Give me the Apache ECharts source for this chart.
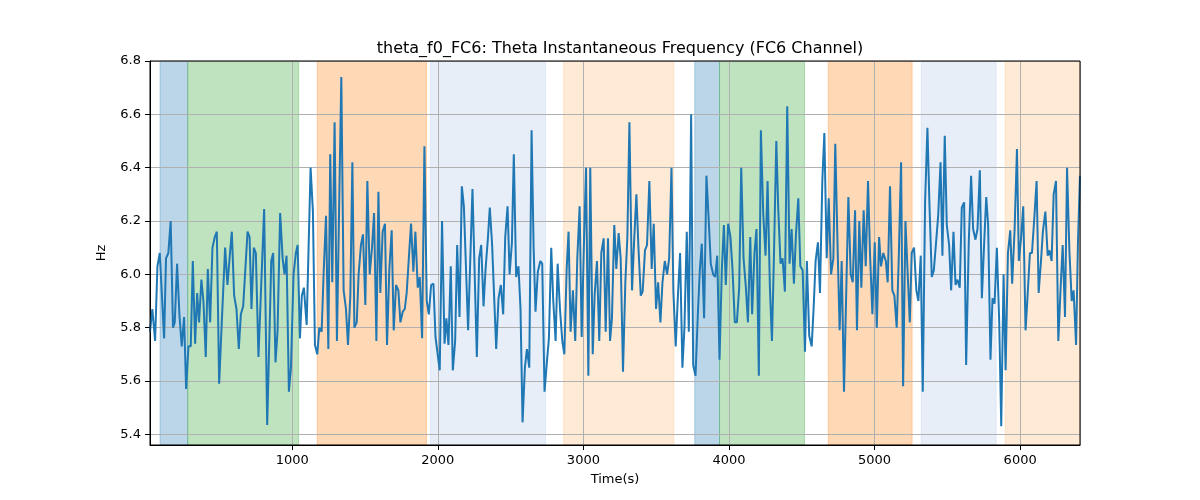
<!DOCTYPE html>
<html><head><meta charset="utf-8">
<script src="https://cdn.jsdelivr.net/npm/echarts@6/dist/echarts.min.js"></script>
<style>html,body{margin:0;padding:0;background:#fff}#c{width:1200px;height:500px}</style>
</head><body><div id="c"></div>
<script>
const titleText = 'theta_f0_FC6: Theta Instantaneous Frequency (FC6 Channel)';
const xName = 'Time(s)';
const yName = 'Hz';

const times = [
23,39,58,74,90,120,133,149,165,181,193,209,225,241,257,271,287,303,317,333,347,360,376,390,406,420,436,452,468,482,498,516,539,555,571,585,601,617,633,647,663,693,707,720,736,750,768,
807,828,856,869,885,899,917,934,947,961,977,991,1009,1025,1037,1053,1066,1080,1099,1112,1126,1142,1156,1172,1186,1202,1216,1232,1248,1261,1275,1291,1307,1337,1353,1369,1383,1399,1413,1427,1443,1456,1472,1486,1502,1516,1532,1548,1562,1578,1592,
1605,1621,1637,1651,1667,1683,1697,1713,1729,1743,1759,1773,1786,1802,1816,1832,1846,1862,1876,1892,1908,1924,1938,1954,1970,1984,1997,2013,2029,2046,2059,2073,2089,2103,2119,2133,2149,2165,2179,2208,2238,2268,2284,2298,2314,2328,2344,2357,
2373,2401,2417,2433,2449,2463,2479,2493,2509,2522,2538,2554,2568,2582,2598,2612,2628,2644,2658,2671,2687,2704,2717,2733,2749,2763,2779,2793,2809,2823,2839,2855,2869,2885,2898,2912,2928,2944,2958,2974,2988,3004,3018,3034,3047,3064,3077,3093,3109,3123,3139,3153,3169,
3183,3196,3212,3226,3242,3256,3272,3288,3302,3316,3334,3348,3364,3378,3394,3407,3423,3437,3453,3469,3483,3499,3513,3529,3543,3559,3575,3589,3605,3618,3634,3650,3664,3680,3694,3710,3724,3740,3754,3770,3786,3800,3813,3829,3845,3861,3875,3891,3905,3919,3935,3951,3965,
3978,3994,4010,4024,4040,4054,4070,4084,4100,4116,4130,4146,4159,4175,4189,4205,4219,4235,4251,4265,4281,4295,4308,4325,4338,4354,4368,4384,4400,4416,4430,4446,4460,4476,4490,4506,4522,4535,4551,4568,4581,4595,4611,4625,4641,4655,4671,4685,4701,4717,4730,4746,4760,
4774,4790,4820,4836,4850,4866,4879,4895,4909,4925,4939,4955,4969,4985,5001,5015,5031,5044,5060,5077,5090,5106,5122,5136,5152,5166,5182,5196,5212,5226,5242,5255,5271,5287,5301,5317,5331,5347,5363,5377,5393,5407,5420,5437,5453,5466,5482,5496,5512,5526,5542,
5556,5569,5585,5599,5615,5629,5647,5663,5677,5693,5707,5723,5737,5753,5767,5780,5796,5810,5824,5840,5856,5870,5886,5900,5916,5932,5945,5962,5978,5991,6007,6021,6037,6051,6067,6081,6097,6113,6127,6143,6156,6173,6189,6202,6216,6230,6246,6262,6278,6292,6308,6322,6338,6354,6367,6384,6397,6411
];

const values = [
5.785,5.87,5.75,6.03,6.08,5.76,6.06,6.08,6.20,5.80,5.82,6.04,5.85,5.73,5.84,5.57,5.73,5.73,6.05,5.74,5.93,5.82,5.98,5.90,5.69,6.02,5.82,6.10,6.14,6.16,5.59,5.82,6.10,5.96,6.07,6.16,5.92,5.87,5.72,5.85,5.88,6.16,6.14,5.87,6.10,6.08,5.69,
6.245,5.435,6.05,6.08,5.67,5.785,6.23,6.06,6.00,6.07,5.56,5.65,6.00,6.08,6.11,5.76,5.92,5.95,5.81,5.81,6.40,6.235,5.735,5.70,5.80,5.785,6.01,6.22,5.72,6.45,5.97,6.57,5.75,6.74,5.94,5.87,5.735,5.92,6.42,5.80,5.82,6.00,6.11,6.15,5.885,6.35,6.00,6.10,6.23,5.75,6.31,
5.93,6.16,6.19,5.735,6.02,6.165,5.79,5.96,5.94,5.82,5.86,5.87,5.93,6.07,6.19,6.01,6.16,5.95,5.99,5.76,6.48,5.90,5.85,5.96,5.965,5.765,5.77,5.64,6.20,5.74,5.835,5.735,6.03,5.64,5.75,6.11,5.84,6.33,6.255,5.79,6.32,5.69,6.06,6.11,5.88,6.02,6.135,6.25,
6.11,5.72,5.91,5.96,5.85,6.14,6.255,6.00,6.12,6.45,5.99,6.03,5.87,5.445,5.65,5.72,5.65,6.54,6.10,5.86,6.01,6.05,6.04,5.56,5.67,5.76,6.10,5.90,5.75,6.04,5.87,5.75,5.70,6.02,6.16,5.785,5.94,5.75,6.06,6.255,5.765,6.12,6.40,5.62,6.40,5.70,5.92,6.05,5.75,6.08,6.135,5.785,6.135,
5.75,5.835,6.185,6.02,6.155,6.06,5.635,5.97,6.14,6.57,5.94,6.12,6.30,6.10,5.92,5.935,6.09,6.11,6.35,6.02,6.19,5.87,5.97,5.82,5.97,6.05,6.00,6.06,6.40,5.935,5.73,5.93,6.08,5.65,5.80,6.16,5.785,6.60,5.66,5.62,5.85,6.02,6.115,5.835,6.37,6.20,6.04,6.00,5.99,6.07,5.68,6.02,6.185,
5.96,6.19,6.14,6.02,5.82,5.82,5.95,6.40,6.06,5.95,5.82,6.14,5.85,6.08,6.17,5.62,6.54,6.23,6.07,6.35,5.95,5.75,6.05,6.50,6.25,6.04,6.06,5.935,6.63,6.04,6.17,5.965,6.15,6.285,6.03,6.015,5.71,6.05,5.77,5.73,5.87,6.05,6.12,5.93,6.35,6.53,6.06,6.285,6.00,6.06,6.49,6.10,5.79,
6.05,5.56,6.29,6.00,5.97,6.24,5.79,6.20,5.95,6.24,6.03,6.35,6.07,5.85,6.12,5.80,6.14,6.03,6.08,6.05,5.97,6.33,5.94,5.92,5.80,6.06,6.42,5.58,6.20,6.02,5.82,6.08,6.10,5.94,5.90,6.07,5.56,6.27,6.55,6.26,5.99,6.015,6.01,6.22,6.42,6.07,6.52,6.185,6.11,5.94,6.16,
5.96,5.98,5.95,6.25,6.27,5.66,6.12,6.37,6.17,6.13,6.17,6.39,5.91,6.12,6.29,6.185,5.68,5.91,5.89,6.10,5.82,5.43,6.00,5.64,6.08,6.165,5.965,6.17,6.47,6.05,6.14,6.255,5.79,5.92,6.08,6.08,6.21,6.35,5.93,6.05,6.16,6.235,6.07,6.09,6.05,6.30,6.35,5.75,5.95,6.11,5.84,6.40,6.09,5.90,5.94,5.735,6.12,6.37
];

const spanStart = [92, 282, 1172, 1949, 2864, 3765, 3935, 4682, 5320, 5897];
const spanEnd   = [282, 1044, 1922, 2740, 3621, 3935, 4519, 5258, 5835, 6411];
const spanKind  = ['blue','green','orange','lightblue','lightorange','blue','green','orange','lightblue','lightorange'];

const yMin = 5.36, yMax = 6.8;

const kindColor = {
  blue: 'rgba(31,119,180,0.3)',
  green: 'rgba(44,160,44,0.3)',
  orange: 'rgba(255,127,14,0.3)',
  lightblue: 'rgba(174,199,232,0.3)',
  lightorange: 'rgba(255,187,120,0.3)'
};

const lineData = times.map((t, i) => [t, values[i]]);
const areas = spanStart.map((s, i) => [
  { xAxis: s, itemStyle: { color: kindColor[spanKind[i]], borderColor: kindColor[spanKind[i]], borderWidth: 1 } },
  { xAxis: spanEnd[i] }
]);

const font = 'DejaVu Sans';
const chart = echarts.init(document.getElementById('c'), null, { renderer: 'canvas' });
chart.setOption({
  animation: false,
  backgroundColor: '#fff',
  title: {
    text: titleText, left: 615, top: 36, textAlign: 'center',
    textStyle: { fontFamily: font, fontSize: 16, fontWeight: 'normal', color: '#000' }
  },
  grid: { left: 150, right: 120, top: 61, bottom: 55, show: true, borderColor: '#000', borderWidth: 1, backgroundColor: 'transparent', z: 5 },
  xAxis: {
    type: 'value', min: 'dataMin', max: 'dataMax', splitNumber: 6, z: 3,
    name: xName, nameLocation: 'middle', nameGap: 28,
    nameTextStyle: { fontFamily: font, fontSize: 13, color: '#000' },
    axisLine: { show: true, onZero: false, lineStyle: { color: '#000', width: 1 } },
    axisTick: { show: true, inside: false, length: 5, lineStyle: { color: '#000' } },
    axisLabel: { fontFamily: font, fontSize: 13, color: '#000', margin: 9, showMinLabel: false, showMaxLabel: false,
      formatter: v => String(Math.round(v)) },
    splitLine: { show: true, lineStyle: { color: '#b0b0b0', width: 1 } }
  },
  yAxis: {
    type: 'value', min: yMin, max: yMax, splitNumber: 7, z: 3,
    name: yName, nameLocation: 'middle', nameGap: 42, nameRotate: 90,
    nameTextStyle: { fontFamily: font, fontSize: 13, color: '#000' },
    axisLine: { show: true, lineStyle: { color: '#000', width: 1 } },
    axisTick: { show: true, inside: false, length: 5, lineStyle: { color: '#000' } },
    axisLabel: { fontFamily: font, fontSize: 13, color: '#000', margin: 9, showMinLabel: false,
      formatter: v => v.toFixed(1) },
    splitLine: { show: true, lineStyle: { color: '#b0b0b0', width: 1 } }
  },
  series: [
    {
      type: 'line', z: 1, data: lineData, showSymbol: false, silent: true,
      lineStyle: { width: 0, opacity: 0 },
      markArea: { silent: true, data: areas }
    },
    {
      type: 'line', z: 4, data: lineData, showSymbol: false, symbol: 'none',
      lineStyle: { color: '#1f77b4', width: 2 }, itemStyle: { color: '#1f77b4' }
    }
  ]
});
</script>
</body></html>
